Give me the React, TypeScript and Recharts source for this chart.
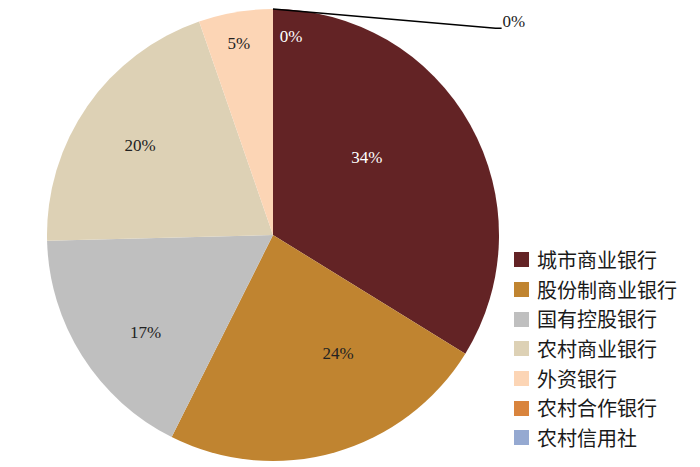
import React from 'react';
import { Cell, Legend, Pie, PieChart } from 'recharts';

const categories = ['城市商业银行', '股份制商业银行', '国有控股银行', '农村商业银行', '外资银行', '农村合作银行', '农村信用社'];
const shares = [33.8, 23.6, 17.2, 20.1, 5.3, 0, 0];
const colors = ['#632325', '#c08430', '#bfbfbf', '#ddd1b5', '#fcd5b5', '#d9843d', '#95a9d1'];

const data = categories.map((name, i) => ({ name, value: shares[i] }));

const RAD = Math.PI / 180;
// Excel "best fit" label placement: radius fraction and clockwise angle shift from the slice middle
const labelRadius = [0.54, 0.6, 0.71, 0.71, 0.86, 0.88, 1];
const labelShift = [-10.5, -12.9, -5, -0.7, -0.6, 5.2, 0];
const labelColor = ['#ffffff', '#222222', '#222222', '#222222', '#222222', '#ffffff', '#222222'];
const serif = '"Liberation Serif", "Times New Roman", serif';

const renderLabel = (props: any) => {
  const { cx, cy, midAngle, outerRadius, index, percent } = props;
  const text = `${Math.round(percent * 100)}%`;
  if (index === 6) {
    // outside label with leader line
    const sx = cx + outerRadius * Math.cos(-midAngle * RAD);
    const sy = cy + outerRadius * Math.sin(-midAngle * RAD);
    const ex = cx + outerRadius * 0.985;
    const ey = cy - outerRadius * 0.915;
    return (
      <g>
        <polyline points={`${sx},${sy} ${ex},${ey} ${ex + 6},${ey}`} fill="none" stroke="#000" strokeWidth={1.5} />
        <text x={ex + 7} y={ey - 7} fontSize={17} fontFamily={serif} fill="#222" dominantBaseline="central">
          {text}
        </text>
      </g>
    );
  }
  const r = outerRadius * labelRadius[index];
  const a = (90 - midAngle + labelShift[index]) * RAD;
  const x = cx + r * Math.sin(a);
  const y = cy - r * Math.cos(a);
  return (
    <text x={x} y={y} fontSize={17} fontFamily={serif} fill={labelColor[index]} textAnchor="middle" dominantBaseline="central">
      {text}
    </text>
  );
};

const renderLegend = () => (
  <div>
    {categories.map((name, i) => (
      <div key={name} style={{ display: 'flex', alignItems: 'center', height: 29.7 }}>
        <span style={{ width: 15, height: 15, background: colors[i], marginRight: 8, display: 'inline-block' }} />
        <span style={{ fontSize: 20, lineHeight: '24px', color: '#1a1a1a', fontFamily: '"Noto Sans CJK SC", sans-serif' }}>{name}</span>
      </div>
    ))}
  </div>
);

export default function App() {
  return (
    <div style={{ position: 'absolute', left: 0, top: 0, background: '#fff' }}>
      <PieChart width={700} height={467} margin={{ top: 0, right: 0, bottom: 0, left: 0 }}>
        <Pie
          data={data}
          dataKey="value"
          nameKey="name"
          cx={273}
          cy={235}
          outerRadius={226}
          startAngle={90}
          endAngle={-270}
          stroke="none"
          label={renderLabel}
          labelLine={false}
          isAnimationActive={false}
        >
          {data.map((d, i) => (
            <Cell key={d.name} fill={colors[i]} />
          ))}
        </Pie>
        <Legend
          layout="vertical"
          content={renderLegend}
          wrapperStyle={{ left: 514, top: 245, width: 186 }}
        />
      </PieChart>
    </div>
  );
}
